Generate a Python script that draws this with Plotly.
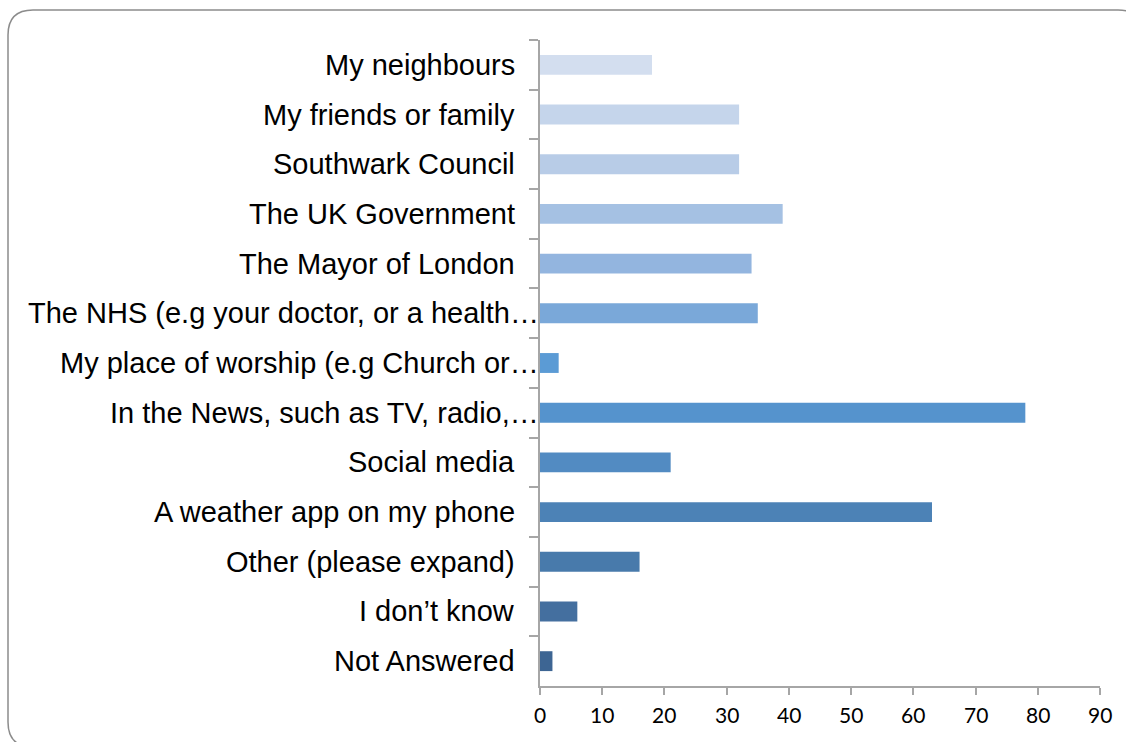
import plotly.graph_objects as go

categories = [
    "My neighbours",
    "My friends or family",
    "Southwark Council",
    "The UK Government",
    "The Mayor of London",
    "The NHS (e.g your doctor, or a health…",
    "My place of worship (e.g Church or…",
    "In the News, such as TV, radio,…",
    "Social media",
    "A weather app on my phone",
    "Other (please expand)",
    "I don’t know",
    "Not Answered",
]
values = [18, 32, 32, 39, 34, 35, 3, 78, 21, 63, 16, 6, 2]
bar_colors = [
    "#d3deef", "#c5d5eb", "#b8cce7", "#a5c1e3", "#93b5df", "#7aa8d9",
    "#5b9bd5", "#5593cd", "#528bc2", "#4c82b6", "#487aab", "#446f9f", "#3d6593",
]
x_ticks = [0, 10, 20, 30, 40, 50, 60, 70, 80, 90]

W, H = 1126, 742
ML, MR, MT, MB = 540, 26, 40, 56
PW, PH = W - ML - MR, H - MT - MB


def px(x):
    return (x - ML) / PW


def py(y):
    return 1 - (y - MT) / PH


fig = go.Figure()
fig.add_trace(go.Bar(
    y=categories, x=values, orientation="h",
    marker=dict(color=bar_colors, line=dict(width=0)),
    width=0.4, hoverinfo="x+y",
))

annotations = []
for c in categories:
    annotations.append(dict(
        x=0, xref="paper", y=c, yref="y", text=c, showarrow=False,
        xanchor="right", yanchor="middle",
        xshift=1 if c.endswith("…") else -23,
        font=dict(family="Liberation Sans", size=29, color="#000000"),
    ))

# x tick labels as annotations for precise sizing
for t in x_ticks:
    annotations.append(dict(
        x=t, xref="x", y=0, yref="paper", text=str(t), showarrow=False,
        xanchor="center", yanchor="top", yshift=-14,
        font=dict(family="Lato", size=21, color="#000000"),
    ))

# rounded border
r = 25
x0, y0, x1, y1 = 8, 10, 1143, 747
path = (
    f"M {px(x0)},{py(y0 + r)} Q {px(x0)},{py(y0)} {px(x0 + r)},{py(y0)} "
    f"L {px(x1 - r)},{py(y0)} Q {px(x1)},{py(y0)} {px(x1)},{py(y0 + r)} "
    f"L {px(x1)},{py(y1 - r)} Q {px(x1)},{py(y1)} {px(x1 - r)},{py(y1)} "
    f"L {px(x0 + r)},{py(y1)} Q {px(x0)},{py(y1)} {px(x0)},{py(y1 - r)} Z"
)

fig.update_layout(
    width=W, height=H,
    margin=dict(l=ML, r=MR, t=MT, b=MB, pad=0),
    paper_bgcolor="white", plot_bgcolor="white",
    showlegend=False,
    annotations=annotations,
    shapes=[dict(type="path", xref="paper", yref="paper", path=path,
                 line=dict(color="#8c8c8c", width=1.5), fillcolor="rgba(0,0,0,0)",
                 layer="below")],
    xaxis=dict(
        range=[0, 90], tickvals=x_ticks, showticklabels=False,
        showgrid=False, zeroline=False, showline=True,
        linecolor="#a6a6a6", linewidth=2,
        ticks="outside", ticklen=7, tickwidth=2, tickcolor="#a6a6a6",
        fixedrange=True,
    ),
    yaxis=dict(
        type="category", categoryorder="array", categoryarray=categories,
        range=[len(categories) - 0.5, -0.5],
        showgrid=False, zeroline=False, showline=True,
        linecolor="#a6a6a6", linewidth=2,
        ticks="outside", tickson="boundaries", ticklen=9, tickwidth=2, tickcolor="#a6a6a6",
        showticklabels=False, fixedrange=True,
    ),
)

fig.write_html("out.html")
